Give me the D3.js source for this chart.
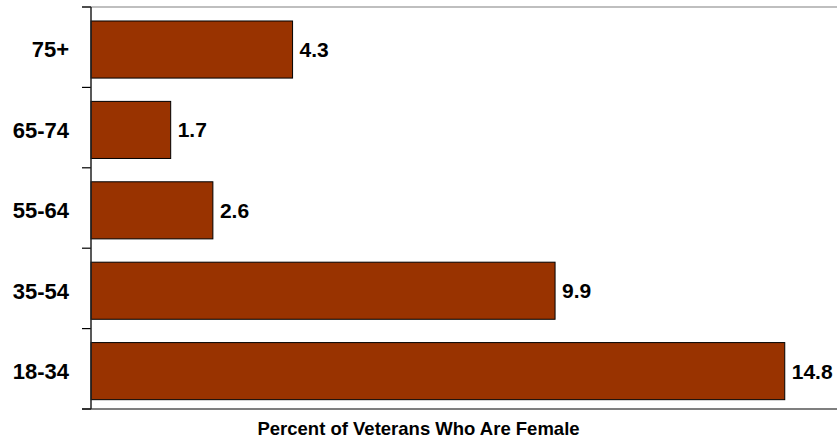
<!DOCTYPE html>
<html>
<head>
<meta charset="utf-8">
<script src="https://cdn.jsdelivr.net/npm/d3@7"></script>
<style>
body{margin:0;background:#fff}
text{font-family:Arial,"Liberation Sans",sans-serif;font-weight:bold;fill:#000}
</style>
</head>
<body>
<script>
// age groups, top to bottom
var ageGroups=["75+","65-74","55-64","35-54","18-34"];
var pctFemale=[4.3,1.7,2.6,9.9,14.8];
var axisTitle="Percent of Veterans Who Are Female";

var W=837,H=444;
var plotL=91,plotR=841,plotT=7,plotB=409;

var svg=d3.select('body').append('svg')
    .attr('width',W)
    .attr('height',H);

var x=d3.scaleLinear().domain([0,16]).range([plotL,plotR]);
var y=d3.scaleBand().domain(ageGroups).range([plotT,plotB])
    .paddingInner(0.29).paddingOuter(0.145).align(0.6);

// frame lines top / bottom
svg.append("line").attr("x1",plotL-9).attr("x2",W).attr("y1",plotT).attr("y2",plotT)
    .attr("stroke","#808080").attr("stroke-width",1.2);
svg.append("line").attr("x1",plotL-9).attr("x2",W).attr("y1",plotB).attr("y2",plotB)
    .attr("stroke","#000").attr("stroke-width",1.2);

// bars
var data=ageGroups.map(function(d,i){return {g:d,v:pctFemale[i]}});
svg.selectAll("rect.bar").data(data).enter().append("rect")
    .attr("class","bar")
    .attr("x",x(0))
    .attr("y",function(d){return y(d.g)})
    .attr("width",function(d){return x(d.v)-x(0)})
    .attr("height",y.bandwidth())
    .attr("fill","#993300")
    .attr("stroke","#000")
    .attr("stroke-width",1);

// value labels
svg.selectAll("text.val").data(data).enter().append("text")
    .attr("class","val")
    .attr("x",function(d){return x(d.v)+7})
    .attr("y",function(d){return y(d.g)+y.bandwidth()/2})
    .attr("dy","0.36em")
    .style("font-size","21px")
    .text(function(d){return d.v.toFixed(1)});

// category axis with ticks at band boundaries
var bounds=d3.range(ageGroups.length+1).map(function(i){return plotT+i*y.step()});
svg.selectAll("line.tick").data(bounds).enter().append("line")
    .attr("class","tick")
    .attr("x1",plotL-9).attr("x2",plotL)
    .attr("y1",function(d){return d}).attr("y2",function(d){return d})
    .attr("stroke","#000").attr("stroke-width",1.2);
svg.append("line").attr("x1",plotL).attr("x2",plotL).attr("y1",plotT).attr("y2",plotB)
    .attr("stroke","#222").attr("stroke-width",1.5);

svg.selectAll("text.cat").data(ageGroups).enter().append("text")
    .attr("class","cat")
    .attr("x",plotL-22)
    .attr("y",function(d){return y(d)+y.bandwidth()/2})
    .attr("dy","0.36em")
    .attr("text-anchor","end")
    .style("font-size","22px")
    .text(function(d){return d});

// axis title
svg.append("text")
    .attr("x",W/2)
    .attr("y",435)
    .attr("text-anchor","middle")
    .style("font-size","18.5px")
    .text(axisTitle);
</script>
</body>
</html>
